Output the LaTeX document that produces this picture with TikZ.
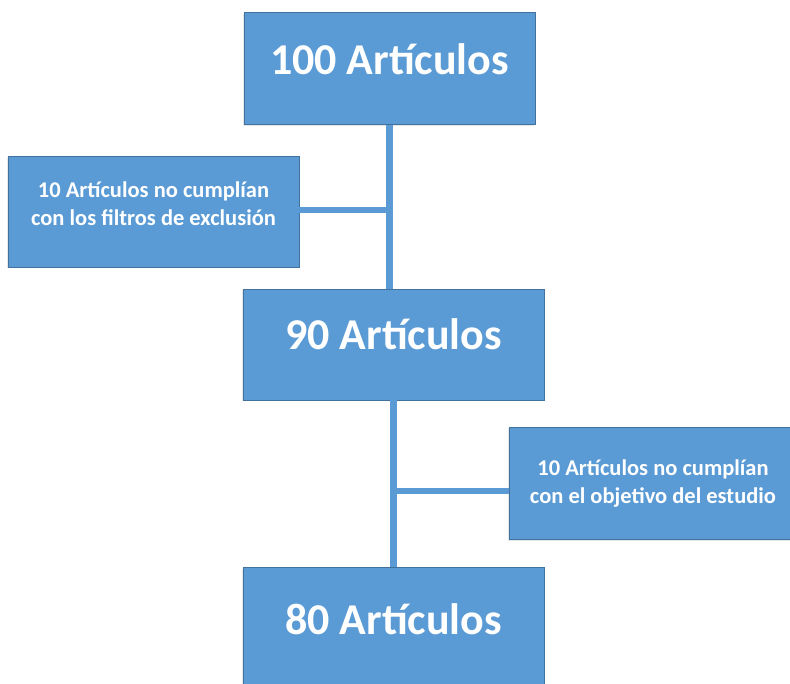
\documentclass[tikz,border=0pt]{standalone}
\usepackage{fontspec}
\setmainfont{Carlito}
\usetikzlibrary{shadows}
\definecolor{boxblue}{HTML}{5B9BD5}
\definecolor{boxedge}{HTML}{41719C}
\begin{document}
\begin{tikzpicture}[x=1pt,y=-1pt,
  box/.style={draw=boxedge, line width=0.8pt, fill=boxblue, rectangle, inner sep=0pt,
    drop shadow={opacity=0.18, shadow xshift=-1pt, shadow yshift=-1.5pt}},
  bigtext/.style={text=white, font=\bfseries\fontsize{44}{48}\selectfont, anchor=base, inner sep=0pt},
  smalltext/.style={text=white, font=\bfseries\fontsize{22.5}{28}\selectfont, align=center, anchor=base, inner sep=0pt},
  link/.style={draw=boxblue, line width=6.5pt}]
\useasboundingbox (0,0) rectangle (790,684);
\node[box, minimum width=291pt, minimum height=112.5pt] (top) at (389.5,68.5) {};
\node[box, minimum width=291pt, minimum height=111pt] (left) at (153.5,211.5) {};
\node[box, minimum width=301pt, minimum height=111pt] (mid) at (393.5,344.5) {};
\node[box, minimum width=291pt, minimum height=112pt] (right) at (654.5,483) {};
\node[box, minimum width=301pt, minimum height=125pt] (bot) at (393.5,629.5) {};
\coordinate (j1) at (top.south |- 0,210);
\coordinate (j2) at (mid.south |- 0,491);
\draw[link] (top.south) -- (top.south |- mid.north);
\draw[link] (left.east |- j1) -- (j1);
\draw[link] (mid.south) -- (bot.north);
\draw[link] (j2) -- (j2 -| right.west);
\node[bigtext] (ttop) at (389.5,74.5) {100 Artículos};
\node[bigtext] (tmid) at (393.5,350) {90 Artículos};
\node[bigtext] (tbot) at (393.5,634.5) {80 Artículos};
\node[smalltext] (tleft) at (153.5,226) {10 Artículos no cumplían\\con los filtros de exclusión};
\node[smalltext] (tright) at (653,503) {10 Artículos no cumplían\\con el objetivo del estudio};
\end{tikzpicture}
\end{document}
